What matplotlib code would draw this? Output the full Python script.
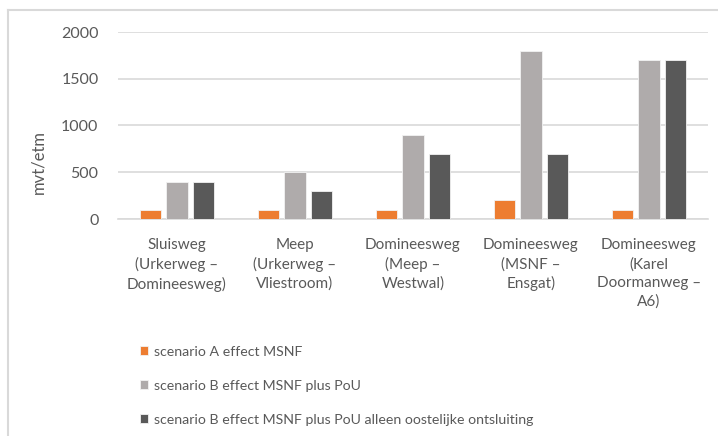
import matplotlib
matplotlib.use("Agg")
import matplotlib.pyplot as plt
import numpy as np
from matplotlib.lines import Line2D

plt.rcParams['font.family'] = ['Lato', 'DejaVu Sans']

categories = [
    "Sluisweg\n(Urkerweg \u2013\nDomineesweg)",
    "Meep\n(Urkerweg \u2013\nVliestroom)",
    "Domineesweg\n(Meep \u2013\nWestwal)",
    "Domineesweg\n(MSNF \u2013\nEnsgat)",
    "Domineesweg\n(Karel\nDoormanweg \u2013\nA6)",
]
series_names = [
    "scenario A effect MSNF",
    "scenario B effect MSNF plus PoU",
    "scenario B effect MSNF plus PoU alleen oostelijke ontsluiting",
]
scenario_a = [100, 100, 100, 200, 100]
scenario_b = [400, 500, 900, 1800, 1700]
scenario_b_oost = [400, 300, 700, 700, 1700]
y_ticks = [0, 500, 1000, 1500, 2000]

colors = ["#ED7D31", "#AFABAB", "#595959"]
text_color = "#595959"

W, H = 718, 436
fig = plt.figure(figsize=(W / 100, H / 100), dpi=100)
ax = fig.add_axes([118 / W, 1 - 219 / H, (708 - 118) / W, (219 - 32) / H])

x = np.arange(len(categories))
pitch = 0.222
width = 0.178
handles = []
for i, (vals, col, name) in enumerate(zip([scenario_a, scenario_b, scenario_b_oost], colors, series_names)):
    b = ax.bar(x + (i - 1) * pitch, vals, width, color=col, edgecolor="#F2F2F2",
               linewidth=0.6, label=name, zorder=3)
    handles.append(b)

ax.set_xlim(-0.5, len(categories) - 0.5)
ax.set_ylim(0, 2000)
ax.set_yticks(y_ticks)
ax.set_yticklabels([str(t) for t in y_ticks])
ax.yaxis.grid(True, color="#D9D9D9", linewidth=1.2, zorder=0)
ax.set_axisbelow(True)
for s in ["top", "right", "left"]:
    ax.spines[s].set_visible(False)
ax.spines["bottom"].set_color("#D9D9D9")
ax.spines["bottom"].set_linewidth(1.2)
ax.tick_params(axis="y", length=0, pad=14, labelsize=11.5, labelcolor=text_color)
ax.tick_params(axis="x", length=0, pad=14, labelsize=11, labelcolor=text_color)
ax.set_xticks(x)
ax.set_xticklabels(categories, linespacing=1.4, va="top", ha="center")

fig.text(38 / W, 1 - 162 / H, "mvt/etm", rotation=90, ha="center", va="center",
         fontsize=12, color=text_color)

leg = fig.legend(handles=handles, labels=series_names, loc="upper left",
                 bbox_to_anchor=(134 / W, 1 - 340 / H), frameon=False,
                 handlelength=0.6, handleheight=0.6, handletextpad=0.4,
                 labelspacing=1.55, fontsize=10.2, labelcolor=text_color,
                 borderaxespad=0)

# chart-area frame
fig.add_artist(Line2D([8 / W, 1.0], [1 - 10 / H, 1 - 10 / H], color="#D9D9D9", linewidth=1.5))
fig.add_artist(Line2D([8 / W, 8 / W], [0.0, 1 - 10 / H], color="#D9D9D9", linewidth=1.5))

fig.savefig("out.png", dpi=100)
